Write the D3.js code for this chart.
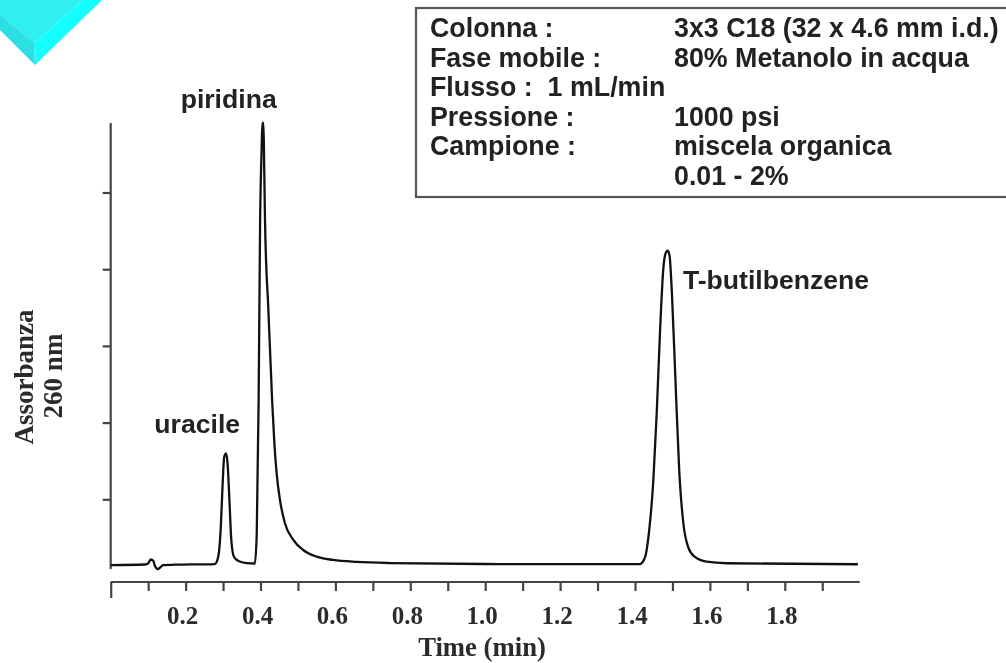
<!DOCTYPE html>
<html>
<head>
<meta charset="utf-8">
<script src="https://cdnjs.cloudflare.com/ajax/libs/d3/7.8.5/d3.min.js"></script>
<style>
  html, body { margin: 0; padding: 0; background: #fff; }
  svg { display: block; filter: blur(0.6px); }
  .serif { font-family: "Liberation Serif", serif; font-weight: bold; fill: #2b2b2b; }
  .sans { font-family: "Liberation Sans", sans-serif; font-weight: bold; fill: #222; }
  .axis path, .axis line { stroke: #444; stroke-width: 2.2; fill: none; }
</style>
</head>
<body>
<div id="main"></div>
<script>
// minutes, and absorbance in y tick units
var times = [0, .092, .100, .107, .114, .118, .126, .132, .140, .172, .278, .287, .294, .299, .303, .308, .312, .317, .322, .329, .341, .363, .385, .390, .395, .399, .403, .405, .408, .410, .412, .421, .431, .437, .443, .452, .465, .488, .514, .550, .594, .657, .746, 1.039, 1.413, 1.427, 1.438, 1.449, 1.458, 1.467, 1.476, 1.482, 1.487, 1.492, 1.499, 1.508, 1.518, 1.529, 1.542, 1.560, 1.591, 1.645, 1.995];
var signal = [.143, .150, .163, .215, .196, .130, .091, .111, .143, .147, .156, .248, .639, 1.213, 1.552, 1.600, 1.473, .991, .469, .252, .196, .169, .163, .561, 2.295, 4.641, 5.554, 5.906, 5.906, 5.293, 4.641, 3.468, 2.295, 1.734, 1.343, .991, .691, .469, .339, .252, .209, .183, .169, .156, .156, .248, .600, 1.252, 2.125, 3.207, 4.029, 4.211, 4.241, 4.185, 3.638, 2.555, 1.382, .691, .378, .248, .186, .166, .153];

var xTicks = [0, .1, .2, .3, .4, .5, .6, .7, .8, .9, 1.0, 1.1, 1.2, 1.3, 1.4, 1.5, 1.6, 1.7, 1.8, 1.9];
var xLabels = [.2, .4, .6, .8, 1.0, 1.2, 1.4, 1.6, 1.8];
var yTicks = [1, 2, 3, 4, 5];

var peakNames = ["uracile", "piridina", "T-butilbenzene"];
var peakTimes = [.231, .315, 1.528];
var peakLevels = [1.87, 6.1, 3.74];

var infoLeft = ["Colonna :", "Fase mobile :", "Flusso :  1 mL/min", "Pressione :", "Campione :", ""];
var infoRight = ["3x3 C18 (32 x 4.6 mm i.d.)", "80% Metanolo in acqua", "", "1000 psi", "miscela organica", "0.01 - 2%"];
var infoBase = [37, 67, 96, 126, 155, 185];

var width = 1006, height = 663;

var svg = d3.select("#main").append("svg")
  .attr("width", width)
  .attr("height", height)
  .attr("viewBox", "0 0 " + width + " " + height);

var x = d3.scaleLinear().domain([0, 2]).range([110.7, 859.7]);
var y = d3.scaleLinear().domain([0, 5.906]).range([576, 123]);

// cyan logo corner
var logo = svg.append("g");
logo.append("polygon").attr("points", "0,0 83,0 34,43 0,14").attr("fill", "#30eff1");
logo.append("polygon").attr("points", "0,14 34,43 35,65 0,30").attr("fill", "#2bdfe2");
logo.append("polygon").attr("points", "83,0 102,0 35,65 34,43").attr("fill", "#14fdff");

// axes
var xAxis = svg.append("g")
  .attr("class", "axis")
  .attr("transform", "translate(0,582)")
  .call(d3.axisBottom(x).tickValues(xTicks).tickSizeOuter(0).tickSize(9).tickFormat(""));
xAxis.select(".domain").attr("d", "M" + x(0) + ",0H" + x(2));
xAxis.selectAll(".tick").filter(function(d) { return d === 0; }).select("line").attr("y2", 16);

var yAxis = svg.append("g")
  .attr("class", "axis")
  .attr("transform", "translate(" + x(0) + ",0)")
  .call(d3.axisLeft(y).tickValues(yTicks).tickSizeOuter(0).tickSize(8).tickFormat(""));
yAxis.select(".domain").attr("d", "M0,123V569");

svg.selectAll(".xlabel")
  .data(xLabels)
  .enter().append("text")
  .attr("class", "xlabel serif")
  .attr("x", function(d) { return x(d) - 3; })
  .attr("y", 624)
  .attr("text-anchor", "middle")
  .style("font-size", "25px")
  .text(function(d) { return d.toFixed(1); });

svg.append("text")
  .attr("class", "serif")
  .attr("x", 482)
  .attr("y", 656)
  .attr("text-anchor", "middle")
  .style("font-size", "26.7px")
  .text("Time (min)");

svg.append("text")
  .attr("class", "serif")
  .attr("transform", "translate(33,377) rotate(-90)")
  .attr("text-anchor", "middle")
  .style("font-size", "27px")
  .text("Assorbanza");
svg.append("text")
  .attr("class", "serif")
  .attr("transform", "translate(62,376) rotate(-90)")
  .attr("text-anchor", "middle")
  .style("font-size", "27px")
  .text("260 nm");

// chromatogram
var points = d3.zip(times, signal);
var line = d3.line()
  .x(function(d) { return x(d[0]); })
  .y(function(d) { return y(d[1]); })
  .curve(d3.curveMonotoneX);

svg.append("path")
  .attr("d", line(points))
  .attr("fill", "none")
  .attr("stroke", "#111")
  .attr("stroke-width", 2.3);

svg.selectAll(".peak")
  .data(peakNames)
  .enter().append("text")
  .attr("class", "peak sans")
  .attr("x", function(d, i) { return x(peakTimes[i]); })
  .attr("y", function(d, i) { return y(peakLevels[i]); })
  .attr("text-anchor", function(d, i) { return i == 2 ? "start" : "middle"; })
  .style("font-size", "26.6px")
  .text(function(d) { return d; });

// info box, runs off the right edge
svg.append("rect")
  .attr("x", 416)
  .attr("y", 8)
  .attr("width", 620)
  .attr("height", 189)
  .attr("fill", "#fff")
  .attr("stroke", "#555")
  .attr("stroke-width", 2.2);

svg.selectAll(".info-left")
  .data(infoLeft)
  .enter().append("text")
  .attr("class", "info-left sans")
  .attr("x", 430)
  .attr("y", function(d, i) { return infoBase[i]; })
  .style("white-space", "pre")
  .style("font-size", "26.8px")
  .text(function(d) { return d; });

svg.selectAll(".info-right")
  .data(infoRight)
  .enter().append("text")
  .attr("class", "info-right sans")
  .attr("x", 674)
  .attr("y", function(d, i) { return infoBase[i]; })
  .style("font-size", "26.8px")
  .text(function(d) { return d; });
</script>
</body>
</html>
